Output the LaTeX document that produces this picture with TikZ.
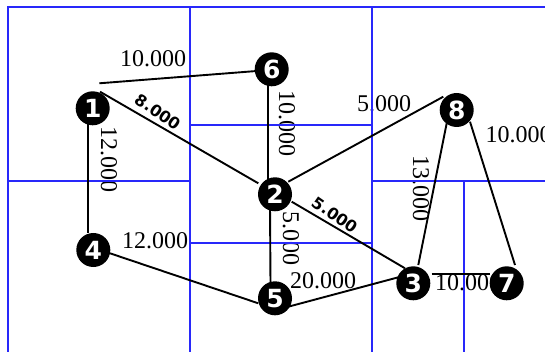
\documentclass[tikz,border=0pt]{standalone}
\usepackage{fontspec}
\setmainfont{Liberation Serif}
\newfontfamily\dvs{DejaVu Sans}
\definecolor{gridblue}{RGB}{40,40,250}
\begin{document}
\begin{tikzpicture}[x=1pt,y=-1pt,
  gridline/.style={draw=gridblue, line width=1.4pt},
  edge/.style={draw=black, line width=1.9pt},
  vx/.style={circle, fill=black, text=white, minimum size=34pt, inner sep=0pt,
    font=\dvs\bfseries\fontsize{25}{25}\selectfont},
  lab/.style={font=\fontsize{24}{24}\selectfont, inner sep=0pt},
  vlab/.style={lab, rotate=-90},
  blab/.style={font=\dvs\bfseries\fontsize{16}{16}\selectfont, inner sep=0pt, rotate=-35},
]
\useasboundingbox (0,0) rectangle (545,352);
% labels
\node[lab]  (l16) at (153,59)   {10.000};
\node[blab] (l12) at (158,112)  {8.000};
\node[vlab] (l14) at (109,160)  {12.000};
\node[vlab] (l62) at (287,123.5){10.000};
\node[lab]  (l28) at (384,104)  {5.000};
\node[lab]  (l87) at (518.5,135){10.000};
\node[blab] (l23) at (335,215)  {5.000};
\node[vlab] (l25) at (291,238.5){5.000};
\node[vlab] (l83) at (421,188.5){13.000};
\node[lab]  (l45) at (155,241)  {12.000};
\node[lab]  (l53) at (323,281)  {20.000};
\node[lab]  (l37) at (468,283)  {10.000};
% grid
\coordinate (g1) at (8,7);    \coordinate (g2) at (560,7);
\coordinate (g3) at (8,360);
\coordinate (g4) at (190,7);  \coordinate (g5) at (190,360);
\coordinate (g6) at (372,7);  \coordinate (g7) at (372,360);
\coordinate (g8) at (190,125); \coordinate (g9) at (372,125);
\coordinate (g10) at (8,181);  \coordinate (g11) at (190,181);
\coordinate (g12) at (372,181); \coordinate (g13) at (560,181);
\coordinate (g14) at (190,243);  \coordinate (g15) at (372,243);
\coordinate (g16) at (464,181); \coordinate (g17) at (464,360);
\draw[gridline] (g3) -- (g1) -- (g2);
\draw[gridline] (g4) -- (g5);
\draw[gridline] (g6) -- (g7);
\draw[gridline] (g8) -- (g9);
\draw[gridline] (g10) -- (g11);
\draw[gridline] (g12) -- (g13);
\draw[gridline] (g14) -- (g15);
\draw[gridline] (g16) -- (g17);
% edge end points
\coordinate (a16) at (99.3,83.3);   \coordinate (b16) at (256.7,71);
\coordinate (a12) at (100,91.7);    \coordinate (b12) at (258.3,183.3);
\coordinate (a14) at (88.3,120);    \coordinate (b14) at (88.3,233.3);
\coordinate (a62) at (268.3,80);    \coordinate (b62) at (268.3,180);
\coordinate (a25) at (270,205);     \coordinate (b25) at (270.5,285);
\coordinate (a28) at (288.3,181.7); \coordinate (b28) at (443.3,96.7);
\coordinate (a23) at (291.7,201.7); \coordinate (b23) at (405,268.3);
\coordinate (a45) at (110,253.3);   \coordinate (b45) at (258.3,303.3);
\coordinate (a53) at (288.3,306.7); \coordinate (b53) at (398.3,277.3);
\coordinate (a83) at (446.7,123.3); \coordinate (b83) at (418.3,265);
\coordinate (a87) at (470,121.7);   \coordinate (b87) at (515,265);
\coordinate (a37) at (431.7,274);   \coordinate (b37) at (490,274);
\draw[edge] (a16) -- (b16);
\draw[edge] (a12) -- (b12);
\draw[edge] (a14) -- (b14);
\draw[edge] (a62) -- (b62);
\draw[edge] (a25) -- (b25);
\draw[edge] (a28) -- (b28);
\draw[edge] (a23) -- (b23);
\draw[edge] (a45) -- (b45);
\draw[edge] (a53) -- (b53);
\draw[edge] (a83) -- (b83);
\draw[edge] (a87) -- (b87);
\draw[edge] (a37) -- (b37);
% vertices
\node[vx] (n1) at (92.7,108.3) {1};
\node[vx] (n6) at (271.7,69.3) {6};
\node[vx] (n2) at (275,194.3)  {2};
\node[vx] (n8) at (456.7,110)  {8};
\node[vx] (n4) at (93.3,250)   {4};
\node[vx] (n5) at (275,298.3)  {5};
\node[vx] (n3) at (413.3,283.3){3};
\node[vx] (n7) at (506.7,283.3){7};
\end{tikzpicture}
\end{document}
